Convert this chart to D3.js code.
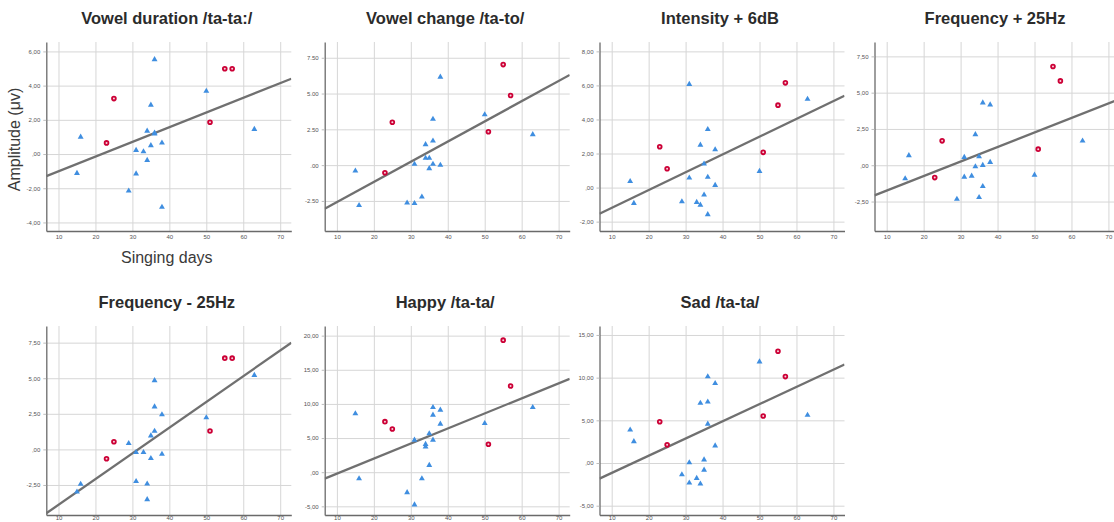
<!DOCTYPE html>
<html>
<head>
<meta charset="utf-8">
<script src="https://cdn.jsdelivr.net/npm/d3@7"></script>
<style>
body { margin: 0; background: #fff; }
svg { display: block; font-family: "Liberation Sans", Arial, sans-serif; }
</style>
</head>
<body>
<script>
var titles = ["Vowel duration /ta-ta:/", "Vowel change /ta-to/", "Intensity + 6dB", "Frequency + 25Hz",
              "Frequency - 25Hz", "Happy /ta-ta/", "Sad /ta-ta/"];

// singing days of the two groups (same in every panel)
var blueDays = [15, 16, 29, 31, 31, 33, 34, 34, 35, 35, 36, 36, 36, 38, 38, 50, 63];
var redDays = [23, 25, 51, 55, 57];

// amplitude per panel, same order as the days above
var blueAmp = [
  [-1.12, 1.0, -2.15, 0.22, -1.15, 0.14, 1.35, -0.36, 2.87, 0.5, 5.53, 1.18, 1.24, 0.65, -3.1, 3.68, 1.45],
  [-0.4, -2.81, -2.63, 0.07, -2.67, -2.21, 1.44, 0.49, 0.49, -0.23, 3.21, 1.7, 0.07, 6.16, 0.0, 3.53, 2.14],
  [0.37, -0.92, -0.82, 6.07, 0.57, -0.86, 2.5, -1.02, 1.39, -0.43, 3.42, 0.62, -1.58, 2.23, 0.14, 0.96, 5.2],
  [-0.92, 0.67, -2.33, 0.55, -0.81, -0.74, 2.12, -0.09, 0.6, -2.21, 4.31, 0.0, -1.45, 4.17, 0.21, -0.67, 1.68],
  [-2.98, -2.44, 0.42, -0.21, -2.25, -0.21, -2.42, -3.52, 0.96, -0.63, 4.84, 3.0, 1.29, 2.44, -0.33, 2.23, 5.21],
  [8.57, -0.93, -2.97, 4.72, -4.77, -0.93, 4.09, 3.7, 5.65, 1.02, 9.5, 8.38, 4.72, 9.11, 7.06, 7.16, 9.5],
  [3.88, 2.52, -1.36, 0.04, -2.33, -1.78, 7.02, -2.44, 0.39, -0.81, 10.12, 7.17, 4.57, 9.34, 2.02, 11.86, 5.62]
];
var redAmp = [
  [0.65, 3.24, 1.86, 4.99, 4.99],
  [-0.53, 3.0, 2.33, 7.02, 4.86],
  [2.4, 1.11, 2.07, 4.84, 6.15],
  [-0.85, 1.68, 1.11, 6.8, 5.81],
  [-0.66, 0.54, 1.29, 6.41, 6.41],
  [7.4, 6.33, 4.09, 19.34, 12.62],
  [4.84, 2.13, 5.5, 13.1, 10.12]
];

var yDomains = [[-4.5, 6.55], [-4.6, 8.6], [-2.55, 8.55], [-4.53, 8.49], [-4.61, 8.67], [-6.27, 21.41], [-6.09, 16.05]];
var yTicks = [
  [-4, -2, 0, 2, 4, 6],
  [-2.5, 0, 2.5, 5, 7.5],
  [-2, 0, 2, 4, 6, 8],
  [-2.5, 0, 2.5, 5, 7.5],
  [-2.5, 0, 2.5, 5, 7.5],
  [-5, 0, 5, 10, 15, 20],
  [-5, 0, 5, 10, 15]
];
var decimalMark = [",", ".", ",", ",", ",", ",", ","];
var xTicks = [10, 20, 30, 40, 50, 60, 70];
var xDomain = [6.7, 73];

var W = 1114, H = 522;
var colLeft = [46.3, 324.7, 599.5, 874.5];
var rowTop = [42, 326];
var plotW = 245, plotH = 189;

var svg = d3.select("body").append("svg")
            .attr("width", W)
            .attr("height", H);

function fitLine(xs, ys) {
  var mx = d3.mean(xs), my = d3.mean(ys);
  var sxy = d3.sum(xs, (x, i) => (x - mx) * (ys[i] - my));
  var sxx = d3.sum(xs, x => (x - mx) * (x - mx));
  var b = sxy / sxx;
  return {b: b, a: my - b * mx};
}

function tickFormat(mark) {
  return function (v) {
    var s = d3.format(".2f")(v).replace("−", "-");
    if (s === "0.00") s = ".00";
    return s.replace(".", mark);
  };
}

titles.forEach(function (title, i) {
  var row = Math.floor(i / 4);
  var left = colLeft[i % 4], top = rowTop[row];
  var x = d3.scaleLinear().domain(xDomain).range([0, plotW]);
  var y = d3.scaleLinear().domain(yDomains[i]).range([plotH, 0]);

  var g = svg.append("g").attr("transform", "translate(" + left + "," + top + ")");

  g.append("clipPath").attr("id", "clip" + i)
   .append("rect").attr("width", plotW).attr("height", plotH);

  // grid
  g.append("g")
   .attr("class", "grid")
   .attr("transform", "translate(0," + plotH + ")")
   .call(d3.axisBottom(x).tickValues(xTicks).tickSize(-plotH).tickFormat(""))
   .call(s => s.select(".domain").remove())
   .selectAll("line").attr("stroke", "#d6d6d6").attr("stroke-width", 1);

  g.append("g")
   .attr("class", "grid")
   .call(d3.axisLeft(y).tickValues(yTicks[i]).tickSize(-plotW).tickFormat(""))
   .call(s => s.select(".domain").remove())
   .selectAll("line").attr("stroke", "#d6d6d6").attr("stroke-width", 1);

  // axes
  var ya = g.append("g")
            .call(d3.axisLeft(y).tickValues(yTicks[i]).tickSize(3).tickSizeOuter(0)
                    .tickPadding(3).tickFormat(tickFormat(decimalMark[i])));
  // bottom row sits on the page edge: keep its labels just inside
  var xa = g.append("g")
            .attr("transform", "translate(0," + plotH + ")")
            .call(d3.axisBottom(x).tickValues(xTicks).tickSize(0).tickSizeOuter(0)
                    .tickPadding(row === 0 ? 4 : 0.5));

  [ya, xa].forEach(function (a) {
    a.select(".domain").attr("stroke", "#6a6a6a").attr("stroke-width", 1.3);
    a.selectAll(".tick line").attr("stroke", "#bdbdbd");
    a.selectAll("text").attr("font-size", 6).attr("fill", "#555")
     .attr("font-family", "'Liberation Sans', Arial, sans-serif");
  });

  // regression line over all points
  var allX = blueDays.concat(redDays), allY = blueAmp[i].concat(redAmp[i]);
  var f = fitLine(allX, allY);
  g.append("line")
   .attr("clip-path", "url(#clip" + i + ")")
   .attr("x1", x(xDomain[0])).attr("y1", y(f.a + f.b * xDomain[0]))
   .attr("x2", x(xDomain[1])).attr("y2", y(f.a + f.b * xDomain[1]))
   .attr("stroke", "#707070")
   .attr("stroke-width", 2.3);

  // blue triangles
  g.selectAll(".tri")
   .data(blueDays.map((d, j) => [d, blueAmp[i][j]]))
   .enter()
   .append("path")
   .attr("class", "tri")
   .attr("d", d3.symbol(d3.symbolTriangle, 15))
   .attr("transform", d => "translate(" + x(d[0]) + "," + y(d[1]) + ")")
   .attr("fill", "#3f8ee0");

  // red circles
  g.selectAll(".dot")
   .data(redDays.map((d, j) => [d, redAmp[i][j]]))
   .enter()
   .append("circle")
   .attr("class", "dot")
   .attr("cx", d => x(d[0]))
   .attr("cy", d => y(d[1]))
   .attr("r", 1.9)
   .attr("fill", "#f6d3dc")
   .attr("stroke", "#cc0036")
   .attr("stroke-width", 1.8);

  // title
  g.append("text")
   .attr("x", plotW / 2 - 2)
   .attr("y", -18.5)
   .attr("text-anchor", "middle")
   .attr("font-size", 16.5)
   .attr("font-weight", "bold")
   .attr("fill", "#2b2b2b")
   .text(title);

  if (i === 0) {
    g.append("text")
     .attr("transform", "translate(" + (20 - left) + "," + (plotH / 2 + 3) + ")rotate(-90)")
     .attr("text-anchor", "middle")
     .attr("font-size", 16)
     .attr("fill", "#3a3a3a")
     .text("Amplitude (μv)");
    g.append("text")
     .attr("x", plotW / 2 - 2)
     .attr("y", plotH + 32)
     .attr("text-anchor", "middle")
     .attr("font-size", 16)
     .attr("fill", "#3a3a3a")
     .text("Singing days");
  }
});
</script>
</body>
</html>
